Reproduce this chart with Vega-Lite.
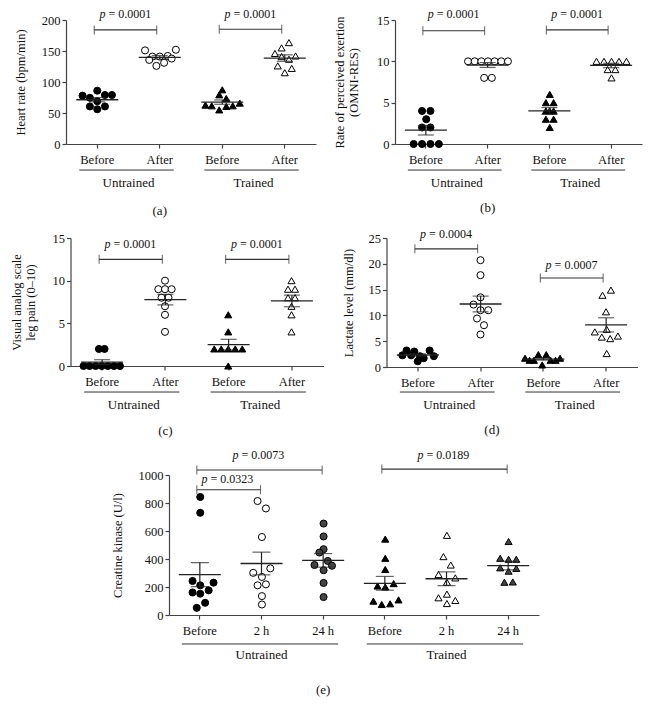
{
"$schema":"https://vega.github.io/schema/vega-lite/v6.json",
"padding":{"left":10,"top":7,"right":5,"bottom":5},
"config":{"font":"Liberation Serif","view":{"stroke":null},
"axis":{"labelFont":"Liberation Serif","titleFont":"Liberation Serif","labelFontSize":12.5,"titleFontSize":12.5,"titleFontWeight":"normal","labelColor":"#111","titleColor":"#111","domainColor":"#444","tickColor":"#444","domainWidth":1.2,"tickWidth":1.2,"tickSize":4,"grid":false,"titleLineHeight":14},
"text":{"font":"Liberation Serif","color":"#111"}},
"datasets":{
"pts":[
{"p":"a","c":"Untrained|Before","v":78,"s":-2.1},{"p":"a","c":"Untrained|Before","v":74.5,"s":-1.05},{"p":"a","c":"Untrained|Before","v":86,"s":0},{"p":"a","c":"Untrained|Before","v":79,"s":1.1},{"p":"a","c":"Untrained|Before","v":79,"s":2.1},{"p":"a","c":"Untrained|Before","v":69,"s":0},{"p":"a","c":"Untrained|Before","v":60.6,"s":-1.05},{"p":"a","c":"Untrained|Before","v":60.6,"s":1.1},{"p":"a","c":"Untrained|Before","v":56,"s":0},
{"p":"a","c":"Untrained|After","v":151,"s":-2.1},{"p":"a","c":"Untrained|After","v":152,"s":2.3},{"p":"a","c":"Untrained|After","v":141,"s":-1.05},{"p":"a","c":"Untrained|After","v":141,"s":0},{"p":"a","c":"Untrained|After","v":142,"s":1.14},{"p":"a","c":"Untrained|After","v":135.6,"s":-1.5},{"p":"a","c":"Untrained|After","v":137.8,"s":1.7},{"p":"a","c":"Untrained|After","v":131,"s":0.62},{"p":"a","c":"Untrained|After","v":126,"s":-0.48},
{"p":"a","c":"Trained|Before","v":87.4,"s":0},{"p":"a","c":"Trained|Before","v":79.3,"s":-0.43},{"p":"a","c":"Trained|Before","v":73.4,"s":0.57},{"p":"a","c":"Trained|Before","v":62.7,"s":-2.4},{"p":"a","c":"Trained|Before","v":61.6,"s":-1.5},{"p":"a","c":"Trained|Before","v":66,"s":2.5},{"p":"a","c":"Trained|Before","v":55,"s":-0.43},{"p":"a","c":"Trained|Before","v":60.6,"s":0.57},{"p":"a","c":"Trained|Before","v":61.6,"s":1.5},
{"p":"a","c":"Trained|After","v":163.5,"s":0.6},{"p":"a","c":"Trained|After","v":155,"s":-0.45},{"p":"a","c":"Trained|After","v":146,"s":-1.4},{"p":"a","c":"Trained|After","v":142,"s":1.55},{"p":"a","c":"Trained|After","v":141,"s":-0.45},{"p":"a","c":"Trained|After","v":136.7,"s":0.6},{"p":"a","c":"Trained|After","v":126,"s":-1},{"p":"a","c":"Trained|After","v":122,"s":1},{"p":"a","c":"Trained|After","v":115,"s":0},
{"p":"b","c":"Untrained|Before","v":4,"s":-0.6},{"p":"b","c":"Untrained|Before","v":4,"s":0.6},{"p":"b","c":"Untrained|Before","v":3,"s":0},{"p":"b","c":"Untrained|Before","v":2,"s":-0.6},{"p":"b","c":"Untrained|Before","v":2,"s":0.6},{"p":"b","c":"Untrained|Before","v":0,"s":-1.8},{"p":"b","c":"Untrained|Before","v":0,"s":-0.6},{"p":"b","c":"Untrained|Before","v":0,"s":0.6},{"p":"b","c":"Untrained|Before","v":0,"s":1.8},
{"p":"b","c":"Untrained|After","v":10,"s":-2.85},{"p":"b","c":"Untrained|After","v":10,"s":-1.9},{"p":"b","c":"Untrained|After","v":10,"s":-0.95},{"p":"b","c":"Untrained|After","v":10,"s":0},{"p":"b","c":"Untrained|After","v":10,"s":0.95},{"p":"b","c":"Untrained|After","v":10,"s":1.9},{"p":"b","c":"Untrained|After","v":10,"s":2.85},{"p":"b","c":"Untrained|After","v":8,"s":-0.55},{"p":"b","c":"Untrained|After","v":8,"s":0.55},
{"p":"b","c":"Trained|Before","v":6,"s":0},{"p":"b","c":"Trained|Before","v":5,"s":-0.55},{"p":"b","c":"Trained|Before","v":5,"s":0.55},{"p":"b","c":"Trained|Before","v":4,"s":-0.55},{"p":"b","c":"Trained|Before","v":4,"s":0},{"p":"b","c":"Trained|Before","v":4,"s":0.55},{"p":"b","c":"Trained|Before","v":3,"s":-0.55},{"p":"b","c":"Trained|Before","v":3,"s":0.55},{"p":"b","c":"Trained|Before","v":2,"s":0},
{"p":"b","c":"Trained|After","v":10,"s":-2.14},{"p":"b","c":"Trained|After","v":10,"s":-1.07},{"p":"b","c":"Trained|After","v":10,"s":0},{"p":"b","c":"Trained|After","v":10,"s":1.07},{"p":"b","c":"Trained|After","v":10,"s":2.14},{"p":"b","c":"Trained|After","v":9,"s":-0.55},{"p":"b","c":"Trained|After","v":9,"s":0.55},{"p":"b","c":"Trained|After","v":8,"s":0},
{"p":"c","c":"Untrained|Before","v":2,"s":-0.4},{"p":"c","c":"Untrained|Before","v":2,"s":0.4},{"p":"c","c":"Untrained|Before","v":0,"s":-2.6},{"p":"c","c":"Untrained|Before","v":0,"s":-1.75},{"p":"c","c":"Untrained|Before","v":0,"s":-0.87},{"p":"c","c":"Untrained|Before","v":0,"s":0},{"p":"c","c":"Untrained|Before","v":0,"s":0.87},{"p":"c","c":"Untrained|Before","v":0,"s":1.75},{"p":"c","c":"Untrained|Before","v":0,"s":2.6},
{"p":"c","c":"Untrained|After","v":10,"s":0},{"p":"c","c":"Untrained|After","v":9,"s":-0.95},{"p":"c","c":"Untrained|After","v":9,"s":0},{"p":"c","c":"Untrained|After","v":9,"s":0.95},{"p":"c","c":"Untrained|After","v":8,"s":-0.5},{"p":"c","c":"Untrained|After","v":8,"s":0.5},{"p":"c","c":"Untrained|After","v":7,"s":0},{"p":"c","c":"Untrained|After","v":6,"s":0},{"p":"c","c":"Untrained|After","v":4,"s":0},
{"p":"c","c":"Trained|Before","v":6,"s":0},{"p":"c","c":"Trained|Before","v":4,"s":0},{"p":"c","c":"Trained|Before","v":2,"s":-2},{"p":"c","c":"Trained|Before","v":2,"s":-1},{"p":"c","c":"Trained|Before","v":2,"s":0},{"p":"c","c":"Trained|Before","v":2,"s":1},{"p":"c","c":"Trained|Before","v":2,"s":2},{"p":"c","c":"Trained|Before","v":0,"s":0},
{"p":"c","c":"Trained|After","v":10,"s":0},{"p":"c","c":"Trained|After","v":9,"s":-0.5},{"p":"c","c":"Trained|After","v":9,"s":0.5},{"p":"c","c":"Trained|After","v":8,"s":-0.5},{"p":"c","c":"Trained|After","v":8,"s":0.5},{"p":"c","c":"Trained|After","v":7,"s":0},{"p":"c","c":"Trained|After","v":6,"s":0},{"p":"c","c":"Trained|After","v":4,"s":0},
{"p":"d","c":"Untrained|Before","v":2.26,"s":-2.2},{"p":"d","c":"Untrained|Before","v":3.2,"s":-1.6},{"p":"d","c":"Untrained|Before","v":2.26,"s":-0.95},{"p":"d","c":"Untrained|Before","v":3.0,"s":-0.5},{"p":"d","c":"Untrained|Before","v":2.1,"s":0.3},{"p":"d","c":"Untrained|Before","v":1.1,"s":0},{"p":"d","c":"Untrained|Before","v":1.7,"s":0.85},{"p":"d","c":"Untrained|Before","v":3.2,"s":1.7},{"p":"d","c":"Untrained|Before","v":2.1,"s":2.3},
{"p":"d","c":"Untrained|After","v":20.7,"s":0},{"p":"d","c":"Untrained|After","v":17.8,"s":0},{"p":"d","c":"Untrained|After","v":13.5,"s":0},{"p":"d","c":"Untrained|After","v":12.1,"s":-1},{"p":"d","c":"Untrained|After","v":11,"s":0},{"p":"d","c":"Untrained|After","v":11,"s":1.1},{"p":"d","c":"Untrained|After","v":9.4,"s":-0.5},{"p":"d","c":"Untrained|After","v":8.1,"s":0.5},{"p":"d","c":"Untrained|After","v":6.3,"s":0},
{"p":"d","c":"Trained|Before","v":1.7,"s":-2.6},{"p":"d","c":"Trained|Before","v":1.3,"s":-1.95},{"p":"d","c":"Trained|Before","v":1.3,"s":-1.33},{"p":"d","c":"Trained|Before","v":2.4,"s":-0.7},{"p":"d","c":"Trained|Before","v":0.4,"s":-0.15},{"p":"d","c":"Trained|Before","v":2.4,"s":0.43},{"p":"d","c":"Trained|Before","v":1.3,"s":1.05},{"p":"d","c":"Trained|Before","v":1.3,"s":1.76},{"p":"d","c":"Trained|Before","v":1.7,"s":2.4},
{"p":"d","c":"Trained|After","v":14.9,"s":0.7},{"p":"d","c":"Trained|After","v":13.9,"s":-0.5},{"p":"d","c":"Trained|After","v":10.7,"s":0},{"p":"d","c":"Trained|After","v":7.3,"s":0.1},{"p":"d","c":"Trained|After","v":6.8,"s":-1.6},{"p":"d","c":"Trained|After","v":5.8,"s":-0.6},{"p":"d","c":"Trained|After","v":5.5,"s":0.6},{"p":"d","c":"Trained|After","v":6.0,"s":1.7},{"p":"d","c":"Trained|After","v":2.6,"s":0.1},
{"p":"e","c":"Untrained|Before","v":843,"s":0},{"p":"e","c":"Untrained|Before","v":730,"s":0},{"p":"e","c":"Untrained|Before","v":243,"s":-1.1},{"p":"e","c":"Untrained|Before","v":231,"s":1.9},{"p":"e","c":"Untrained|Before","v":212,"s":0},{"p":"e","c":"Untrained|Before","v":161,"s":-1.1},{"p":"e","c":"Untrained|Before","v":176,"s":1.2},{"p":"e","c":"Untrained|Before","v":152,"s":0},{"p":"e","c":"Untrained|Before","v":87,"s":0.7},{"p":"e","c":"Untrained|Before","v":51,"s":-0.5},
{"p":"e","c":"Untrained|2 h","v":814,"s":-0.62},{"p":"e","c":"Untrained|2 h","v":761,"s":0.57},{"p":"e","c":"Untrained|2 h","v":557,"s":0},{"p":"e","c":"Untrained|2 h","v":301,"s":-1.24},{"p":"e","c":"Untrained|2 h","v":333,"s":1.2},{"p":"e","c":"Untrained|2 h","v":272,"s":0},{"p":"e","c":"Untrained|2 h","v":212,"s":-0.62},{"p":"e","c":"Untrained|2 h","v":219,"s":0.57},{"p":"e","c":"Untrained|2 h","v":135,"s":0},{"p":"e","c":"Untrained|2 h","v":75,"s":0},
{"p":"e","c":"Untrained|24 h","v":653,"s":0},{"p":"e","c":"Untrained|24 h","v":561,"s":0},{"p":"e","c":"Untrained|24 h","v":470,"s":0},{"p":"e","c":"Untrained|24 h","v":446,"s":-0.6},{"p":"e","c":"Untrained|24 h","v":357,"s":-1.3},{"p":"e","c":"Untrained|24 h","v":386,"s":0.6},{"p":"e","c":"Untrained|24 h","v":352,"s":1.2},{"p":"e","c":"Untrained|24 h","v":320,"s":0},{"p":"e","c":"Untrained|24 h","v":229,"s":0},{"p":"e","c":"Untrained|24 h","v":128,"s":0},
{"p":"e","c":"Trained|Before","v":542,"s":0},{"p":"e","c":"Trained|Before","v":405,"s":0},{"p":"e","c":"Trained|Before","v":325,"s":0},{"p":"e","c":"Trained|Before","v":207,"s":-1.1},{"p":"e","c":"Trained|Before","v":200,"s":0},{"p":"e","c":"Trained|Before","v":224,"s":1.2},{"p":"e","c":"Trained|Before","v":99,"s":-1.7},{"p":"e","c":"Trained|Before","v":75,"s":-0.5},{"p":"e","c":"Trained|Before","v":80,"s":0.7},{"p":"e","c":"Trained|Before","v":108,"s":1.9},
{"p":"e","c":"Trained|2 h","v":569,"s":0},{"p":"e","c":"Trained|2 h","v":417,"s":-0.5},{"p":"e","c":"Trained|2 h","v":357,"s":0.55},{"p":"e","c":"Trained|2 h","v":289,"s":-1.2},{"p":"e","c":"Trained|2 h","v":265,"s":1.2},{"p":"e","c":"Trained|2 h","v":234,"s":0},{"p":"e","c":"Trained|2 h","v":123,"s":-1.2},{"p":"e","c":"Trained|2 h","v":149,"s":0},{"p":"e","c":"Trained|2 h","v":82,"s":0},{"p":"e","c":"Trained|2 h","v":104,"s":1.2},
{"p":"e","c":"Trained|24 h","v":525,"s":0},{"p":"e","c":"Trained|24 h","v":405,"s":-1.2},{"p":"e","c":"Trained|24 h","v":398,"s":0},{"p":"e","c":"Trained|24 h","v":398,"s":1.1},{"p":"e","c":"Trained|24 h","v":337,"s":-1.2},{"p":"e","c":"Trained|24 h","v":313,"s":0},{"p":"e","c":"Trained|24 h","v":333,"s":1.1},{"p":"e","c":"Trained|24 h","v":234,"s":-0.6},{"p":"e","c":"Trained|24 h","v":236,"s":0.6}
],
"br":[
{"p":"a","c":"Untrained|Before","c2":"Untrained|After","v":184},{"p":"a","c":"Trained|Before","c2":"Trained|After","v":185},
{"p":"b","c":"Untrained|Before","c2":"Untrained|After","v":13.7},{"p":"b","c":"Trained|Before","c2":"Trained|After","v":13.8},
{"p":"c","c":"Untrained|Before","c2":"Untrained|After","v":12.5},{"p":"c","c":"Trained|Before","c2":"Trained|After","v":12.5},
{"p":"d","c":"Untrained|Before","c2":"Untrained|After","v":22.9},{"p":"d","c":"Trained|Before","c2":"Trained|After","v":17.25},
{"p":"e","c":"Untrained|Before","c2":"Untrained|24 h","v":1036},{"p":"e","c":"Untrained|Before","c2":"Untrained|2 h","v":895},{"p":"e","c":"Trained|Before","c2":"Trained|24 h","v":1042}
],
"pl":[
{"p":"a","c":"Untrained|Before","v":210,"label":"= 0.0001","k":"adj"},{"p":"a","c":"Trained|Before","v":210,"label":"= 0.0001","k":"adj"},
{"p":"b","c":"Untrained|Before","v":15.7,"label":"= 0.0001","k":"adj"},{"p":"b","c":"Trained|Before","v":15.7,"label":"= 0.0001","k":"adj"},
{"p":"c","c":"Untrained|Before","v":14.3,"label":"= 0.0001","k":"adj"},{"p":"c","c":"Trained|Before","v":14.3,"label":"= 0.0001","k":"adj"},
{"p":"d","c":"Untrained|Before","v":25.8,"label":"= 0.0004","k":"adj"},{"p":"d","c":"Trained|Before","v":19.8,"label":"= 0.0007","k":"adj"},
{"p":"e","c":"Untrained|2 h","v":1143,"label":"= 0.0073","k":"mid"},{"p":"e","c":"Untrained|Before","v":974,"label":"= 0.0323","k":"adj"},{"p":"e","c":"Trained|2 h","v":1145,"label":"= 0.0189","k":"mid"}
],
"grp":[
{"p":"a","c":"Untrained|Before","c2":"Untrained|After","name":"Untrained"},{"p":"a","c":"Trained|Before","c2":"Trained|After","name":"Trained"},
{"p":"b","c":"Untrained|Before","c2":"Untrained|After","name":"Untrained"},{"p":"b","c":"Trained|Before","c2":"Trained|After","name":"Trained"},
{"p":"c","c":"Untrained|Before","c2":"Untrained|After","name":"Untrained"},{"p":"c","c":"Trained|Before","c2":"Trained|After","name":"Trained"},
{"p":"d","c":"Untrained|Before","c2":"Untrained|After","name":"Untrained"},{"p":"d","c":"Trained|Before","c2":"Trained|After","name":"Trained"},
{"p":"e","c":"Untrained|Before","c2":"Untrained|24 h","m":"Untrained|2 h","name":"Untrained"},{"p":"e","c":"Trained|Before","c2":"Trained|24 h","m":"Trained|2 h","name":"Trained"}
]
},
"spacing":9,
"center":true,
"vconcat":[
{"hconcat":[
{"width":250,"height":124,"layer":[
{"data":{"name":"pts"},"transform":[{"filter":"datum.p=='a'"}],"mark":{"type":"point","filled":true,"size":50,"stroke":"#000","strokeWidth":1,"opacity":1},
"encoding":{"x":{"field":"c","type":"nominal","scale":{"type":"band","domain":["Untrained|Before","Untrained|After","Trained|Before","Trained|After"],"paddingInner":0,"paddingOuter":0},"axis":{"title":null,"labelExpr":"split(datum.value,'|')[1]","labelAngle":0,"labelPadding":5,"labelOverlap":false}},
"xOffset":{"field":"s","type":"quantitative","scale":{"domain":[-4,4],"range":[3.25,59.25]}},
"y":{"field":"v","type":"quantitative","scale":{"domain":[0,200],"nice":false,"zero":false},"axis":{"title":"Heart rate (bpm/min)","values":[0,50,100,150,200],"titlePadding":14,"labelPadding":2}},
"shape":{"field":"c","type":"nominal","scale":{"domain":["Untrained|Before","Untrained|After","Untrained|2 h","Untrained|24 h","Trained|Before","Trained|After","Trained|2 h","Trained|24 h"],"range":["circle","circle","circle","circle","triangle-up","triangle-up","triangle-up","triangle-up"]},"legend":null},
"fill":{"field":"c","type":"nominal","scale":{"domain":["Untrained|Before","Untrained|After","Untrained|2 h","Untrained|24 h","Trained|Before","Trained|After","Trained|2 h","Trained|24 h"],"range":["#000","#fff","#fff","#444","#000","#fff","#fff","#444"]},"legend":null}}},
{"data":{"name":"pts"},"transform":[{"filter":"datum.p=='a'"}],"mark":{"type":"tick","size":42,"thickness":1.3,"color":"#222"},
"encoding":{"x":{"field":"c","type":"nominal","scale":{"type":"band","domain":["Untrained|Before","Untrained|After","Trained|Before","Trained|After"],"paddingInner":0,"paddingOuter":0},"axis":{"title":null,"labelExpr":"split(datum.value,'|')[1]","labelAngle":0,"labelPadding":5,"labelOverlap":false}},
"y":{"aggregate":"mean","field":"v","type":"quantitative","scale":{"domain":[0,200],"nice":false,"zero":false},"axis":{"title":"Heart rate (bpm/min)","values":[0,50,100,150,200],"titlePadding":14,"labelPadding":2}}}},
{"data":{"name":"pts"},"transform":[{"filter":"datum.p=='a'"}],"mark":{"type":"errorbar","extent":"stderr","ticks":{"size":16},"thickness":1.2,"color":"#222"},
"encoding":{"x":{"field":"c","type":"nominal","scale":{"type":"band","domain":["Untrained|Before","Untrained|After","Trained|Before","Trained|After"],"paddingInner":0,"paddingOuter":0},"axis":{"title":null,"labelExpr":"split(datum.value,'|')[1]","labelAngle":0,"labelPadding":5,"labelOverlap":false}},
"y":{"field":"v","type":"quantitative","scale":{"domain":[0,200],"nice":false,"zero":false},"axis":{"title":"Heart rate (bpm/min)","values":[0,50,100,150,200],"titlePadding":14,"labelPadding":2}}}},
{"data":{"name":"br"},"transform":[{"filter":"datum.p=='a'"}],"mark":{"type":"rule","color":"#333","strokeWidth":1.1,"xOffset":-3,"x2Offset":-3},
"encoding":{"x":{"field":"c","type":"nominal","scale":{"type":"band","domain":["Untrained|Before","Untrained|After","Trained|Before","Trained|After"],"paddingInner":0,"paddingOuter":0},"axis":{"title":null,"labelExpr":"split(datum.value,'|')[1]","labelAngle":0,"labelPadding":5,"labelOverlap":false}},"x2":{"field":"c2"},
"y":{"field":"v","type":"quantitative","scale":{"domain":[0,200],"nice":false,"zero":false},"axis":{"title":"Heart rate (bpm/min)","values":[0,50,100,150,200],"titlePadding":14,"labelPadding":2}}}},
{"data":{"name":"br"},"transform":[{"filter":"datum.p=='a'"}],"mark":{"type":"tick","orient":"vertical","size":9,"thickness":1.1,"color":"#333","xOffset":-3},
"encoding":{"x":{"field":"c","type":"nominal","scale":{"type":"band","domain":["Untrained|Before","Untrained|After","Trained|Before","Trained|After"],"paddingInner":0,"paddingOuter":0},"axis":{"title":null,"labelExpr":"split(datum.value,'|')[1]","labelAngle":0,"labelPadding":5,"labelOverlap":false}},
"y":{"field":"v","type":"quantitative","scale":{"domain":[0,200],"nice":false,"zero":false},"axis":{"title":"Heart rate (bpm/min)","values":[0,50,100,150,200],"titlePadding":14,"labelPadding":2}}}},
{"data":{"name":"br"},"transform":[{"filter":"datum.p=='a'"}],"mark":{"type":"tick","orient":"vertical","size":9,"thickness":1.1,"color":"#333","xOffset":-3},
"encoding":{"x":{"field":"c2","type":"nominal","scale":{"type":"band","domain":["Untrained|Before","Untrained|After","Trained|Before","Trained|After"],"paddingInner":0,"paddingOuter":0},"axis":{"title":null,"labelExpr":"split(datum.value,'|')[1]","labelAngle":0,"labelPadding":5,"labelOverlap":false}},
"y":{"field":"v","type":"quantitative","scale":{"domain":[0,200],"nice":false,"zero":false},"axis":{"title":"Heart rate (bpm/min)","values":[0,50,100,150,200],"titlePadding":14,"labelPadding":2}}}},
{"data":{"name":"pl"},"transform":[{"filter":"datum.p=='a'"}],"mark":{"type":"text","fontSize":12,"baseline":"middle","align":"left","dx":-26,"fontStyle":"italic"},
"encoding":{"x":{"field":"c","type":"nominal","bandPosition":0.95,"scale":{"type":"band","domain":["Untrained|Before","Untrained|After","Trained|Before","Trained|After"],"paddingInner":0,"paddingOuter":0},"axis":{"title":null,"labelExpr":"split(datum.value,'|')[1]","labelAngle":0,"labelPadding":5,"labelOverlap":false}},
"y":{"field":"v","type":"quantitative","scale":{"domain":[0,200],"nice":false,"zero":false},"axis":{"title":"Heart rate (bpm/min)","values":[0,50,100,150,200],"titlePadding":14,"labelPadding":2}},"text":{"value":"p"}}},
{"data":{"name":"pl"},"transform":[{"filter":"datum.p=='a'"}],"mark":{"type":"text","fontSize":12,"baseline":"middle","align":"left","dx":-17},
"encoding":{"x":{"field":"c","type":"nominal","bandPosition":0.95,"scale":{"type":"band","domain":["Untrained|Before","Untrained|After","Trained|Before","Trained|After"],"paddingInner":0,"paddingOuter":0},"axis":{"title":null,"labelExpr":"split(datum.value,'|')[1]","labelAngle":0,"labelPadding":5,"labelOverlap":false}},
"y":{"field":"v","type":"quantitative","scale":{"domain":[0,200],"nice":false,"zero":false},"axis":{"title":"Heart rate (bpm/min)","values":[0,50,100,150,200],"titlePadding":14,"labelPadding":2}},"text":{"field":"label"}}},
{"data":{"name":"grp"},"transform":[{"filter":"datum.p=='a'"}],"mark":{"type":"rule","color":"#333","strokeWidth":1,"xOffset":-18,"x2Offset":14},
"encoding":{"x":{"field":"c","type":"nominal","scale":{"type":"band","domain":["Untrained|Before","Untrained|After","Trained|Before","Trained|After"],"paddingInner":0,"paddingOuter":0},"axis":{"title":null,"labelExpr":"split(datum.value,'|')[1]","labelAngle":0,"labelPadding":5,"labelOverlap":false}},"x2":{"field":"c2"},
"y":{"datum":-42,"type":"quantitative","scale":{"domain":[0,200],"nice":false,"zero":false},"axis":{"title":"Heart rate (bpm/min)","values":[0,50,100,150,200],"titlePadding":14,"labelPadding":2}}}},
{"data":{"name":"grp"},"transform":[{"filter":"datum.p=='a'"}],"mark":{"type":"text","fontSize":13,"baseline":"middle"},
"encoding":{"x":{"field":"c","type":"nominal","bandPosition":1,"scale":{"type":"band","domain":["Untrained|Before","Untrained|After","Trained|Before","Trained|After"],"paddingInner":0,"paddingOuter":0},"axis":{"title":null,"labelExpr":"split(datum.value,'|')[1]","labelAngle":0,"labelPadding":5,"labelOverlap":false}},
"y":{"datum":-63,"type":"quantitative","scale":{"domain":[0,200],"nice":false,"zero":false},"axis":{"title":"Heart rate (bpm/min)","values":[0,50,100,150,200],"titlePadding":14,"labelPadding":2}},"text":{"field":"name"}}},
{"data":{"values":[{"cap":"(a)"}]},"mark":{"type":"text","fontSize":13,"baseline":"middle"},
"encoding":{"x":{"datum":"Untrained|After","type":"nominal","scale":{"type":"band","domain":["Untrained|Before","Untrained|After","Trained|Before","Trained|After"],"paddingInner":0,"paddingOuter":0},"axis":{"title":null,"labelExpr":"split(datum.value,'|')[1]","labelAngle":0,"labelPadding":5,"labelOverlap":false}},
"y":{"datum":-108,"type":"quantitative","scale":{"domain":[0,200],"nice":false,"zero":false},"axis":{"title":"Heart rate (bpm/min)","values":[0,50,100,150,200],"titlePadding":14,"labelPadding":2}},"text":{"field":"cap"}}}
]},
{"width":247,"height":124,"layer":[
{"data":{"name":"pts"},"transform":[{"filter":"datum.p=='b'"}],"mark":{"type":"point","filled":true,"size":50,"stroke":"#000","strokeWidth":1,"opacity":1},
"encoding":{"x":{"field":"c","type":"nominal","scale":{"type":"band","domain":["Untrained|Before","Untrained|After","Trained|Before","Trained|After"],"paddingInner":0,"paddingOuter":0},"axis":{"title":null,"labelExpr":"split(datum.value,'|')[1]","labelAngle":0,"labelPadding":5,"labelOverlap":false}},
"xOffset":{"field":"s","type":"quantitative","scale":{"domain":[-4,4],"range":[2.875,58.875]}},
"y":{"field":"v","type":"quantitative","scale":{"domain":[0,15],"nice":false,"zero":false},"axis":{"title":["Rate of perceived exertion","(OMNI-RES)"],"values":[0,5,10,15],"titlePadding":16,"labelPadding":2}},
"shape":{"field":"c","type":"nominal","scale":{"domain":["Untrained|Before","Untrained|After","Untrained|2 h","Untrained|24 h","Trained|Before","Trained|After","Trained|2 h","Trained|24 h"],"range":["circle","circle","circle","circle","triangle-up","triangle-up","triangle-up","triangle-up"]},"legend":null},
"fill":{"field":"c","type":"nominal","scale":{"domain":["Untrained|Before","Untrained|After","Untrained|2 h","Untrained|24 h","Trained|Before","Trained|After","Trained|2 h","Trained|24 h"],"range":["#000","#fff","#fff","#444","#000","#fff","#fff","#444"]},"legend":null}}},
{"data":{"name":"pts"},"transform":[{"filter":"datum.p=='b'"}],"mark":{"type":"tick","size":42,"thickness":1.3,"color":"#222"},
"encoding":{"x":{"field":"c","type":"nominal","scale":{"type":"band","domain":["Untrained|Before","Untrained|After","Trained|Before","Trained|After"],"paddingInner":0,"paddingOuter":0},"axis":{"title":null,"labelExpr":"split(datum.value,'|')[1]","labelAngle":0,"labelPadding":5,"labelOverlap":false}},
"y":{"aggregate":"mean","field":"v","type":"quantitative","scale":{"domain":[0,15],"nice":false,"zero":false},"axis":{"title":["Rate of perceived exertion","(OMNI-RES)"],"values":[0,5,10,15],"titlePadding":16,"labelPadding":2}}}},
{"data":{"name":"pts"},"transform":[{"filter":"datum.p=='b'"}],"mark":{"type":"errorbar","extent":"stderr","ticks":{"size":16},"thickness":1.2,"color":"#222"},
"encoding":{"x":{"field":"c","type":"nominal","scale":{"type":"band","domain":["Untrained|Before","Untrained|After","Trained|Before","Trained|After"],"paddingInner":0,"paddingOuter":0},"axis":{"title":null,"labelExpr":"split(datum.value,'|')[1]","labelAngle":0,"labelPadding":5,"labelOverlap":false}},
"y":{"field":"v","type":"quantitative","scale":{"domain":[0,15],"nice":false,"zero":false},"axis":{"title":["Rate of perceived exertion","(OMNI-RES)"],"values":[0,5,10,15],"titlePadding":16,"labelPadding":2}}}},
{"data":{"name":"br"},"transform":[{"filter":"datum.p=='b'"}],"mark":{"type":"rule","color":"#333","strokeWidth":1.1,"xOffset":-3,"x2Offset":-3},
"encoding":{"x":{"field":"c","type":"nominal","scale":{"type":"band","domain":["Untrained|Before","Untrained|After","Trained|Before","Trained|After"],"paddingInner":0,"paddingOuter":0},"axis":{"title":null,"labelExpr":"split(datum.value,'|')[1]","labelAngle":0,"labelPadding":5,"labelOverlap":false}},"x2":{"field":"c2"},
"y":{"field":"v","type":"quantitative","scale":{"domain":[0,15],"nice":false,"zero":false},"axis":{"title":["Rate of perceived exertion","(OMNI-RES)"],"values":[0,5,10,15],"titlePadding":16,"labelPadding":2}}}},
{"data":{"name":"br"},"transform":[{"filter":"datum.p=='b'"}],"mark":{"type":"tick","orient":"vertical","size":9,"thickness":1.1,"color":"#333","xOffset":-3},
"encoding":{"x":{"field":"c","type":"nominal","scale":{"type":"band","domain":["Untrained|Before","Untrained|After","Trained|Before","Trained|After"],"paddingInner":0,"paddingOuter":0},"axis":{"title":null,"labelExpr":"split(datum.value,'|')[1]","labelAngle":0,"labelPadding":5,"labelOverlap":false}},
"y":{"field":"v","type":"quantitative","scale":{"domain":[0,15],"nice":false,"zero":false},"axis":{"title":["Rate of perceived exertion","(OMNI-RES)"],"values":[0,5,10,15],"titlePadding":16,"labelPadding":2}}}},
{"data":{"name":"br"},"transform":[{"filter":"datum.p=='b'"}],"mark":{"type":"tick","orient":"vertical","size":9,"thickness":1.1,"color":"#333","xOffset":-3},
"encoding":{"x":{"field":"c2","type":"nominal","scale":{"type":"band","domain":["Untrained|Before","Untrained|After","Trained|Before","Trained|After"],"paddingInner":0,"paddingOuter":0},"axis":{"title":null,"labelExpr":"split(datum.value,'|')[1]","labelAngle":0,"labelPadding":5,"labelOverlap":false}},
"y":{"field":"v","type":"quantitative","scale":{"domain":[0,15],"nice":false,"zero":false},"axis":{"title":["Rate of perceived exertion","(OMNI-RES)"],"values":[0,5,10,15],"titlePadding":16,"labelPadding":2}}}},
{"data":{"name":"pl"},"transform":[{"filter":"datum.p=='b'"}],"mark":{"type":"text","fontSize":12,"baseline":"middle","align":"left","dx":-26,"fontStyle":"italic"},
"encoding":{"x":{"field":"c","type":"nominal","bandPosition":0.95,"scale":{"type":"band","domain":["Untrained|Before","Untrained|After","Trained|Before","Trained|After"],"paddingInner":0,"paddingOuter":0},"axis":{"title":null,"labelExpr":"split(datum.value,'|')[1]","labelAngle":0,"labelPadding":5,"labelOverlap":false}},
"y":{"field":"v","type":"quantitative","scale":{"domain":[0,15],"nice":false,"zero":false},"axis":{"title":["Rate of perceived exertion","(OMNI-RES)"],"values":[0,5,10,15],"titlePadding":16,"labelPadding":2}},"text":{"value":"p"}}},
{"data":{"name":"pl"},"transform":[{"filter":"datum.p=='b'"}],"mark":{"type":"text","fontSize":12,"baseline":"middle","align":"left","dx":-17},
"encoding":{"x":{"field":"c","type":"nominal","bandPosition":0.95,"scale":{"type":"band","domain":["Untrained|Before","Untrained|After","Trained|Before","Trained|After"],"paddingInner":0,"paddingOuter":0},"axis":{"title":null,"labelExpr":"split(datum.value,'|')[1]","labelAngle":0,"labelPadding":5,"labelOverlap":false}},
"y":{"field":"v","type":"quantitative","scale":{"domain":[0,15],"nice":false,"zero":false},"axis":{"title":["Rate of perceived exertion","(OMNI-RES)"],"values":[0,5,10,15],"titlePadding":16,"labelPadding":2}},"text":{"field":"label"}}},
{"data":{"name":"grp"},"transform":[{"filter":"datum.p=='b'"}],"mark":{"type":"rule","color":"#333","strokeWidth":1,"xOffset":-18,"x2Offset":14},
"encoding":{"x":{"field":"c","type":"nominal","scale":{"type":"band","domain":["Untrained|Before","Untrained|After","Trained|Before","Trained|After"],"paddingInner":0,"paddingOuter":0},"axis":{"title":null,"labelExpr":"split(datum.value,'|')[1]","labelAngle":0,"labelPadding":5,"labelOverlap":false}},"x2":{"field":"c2"},
"y":{"datum":-3.15,"type":"quantitative","scale":{"domain":[0,15],"nice":false,"zero":false},"axis":{"title":["Rate of perceived exertion","(OMNI-RES)"],"values":[0,5,10,15],"titlePadding":16,"labelPadding":2}}}},
{"data":{"name":"grp"},"transform":[{"filter":"datum.p=='b'"}],"mark":{"type":"text","fontSize":13,"baseline":"middle"},
"encoding":{"x":{"field":"c","type":"nominal","bandPosition":1,"scale":{"type":"band","domain":["Untrained|Before","Untrained|After","Trained|Before","Trained|After"],"paddingInner":0,"paddingOuter":0},"axis":{"title":null,"labelExpr":"split(datum.value,'|')[1]","labelAngle":0,"labelPadding":5,"labelOverlap":false}},
"y":{"datum":-4.72,"type":"quantitative","scale":{"domain":[0,15],"nice":false,"zero":false},"axis":{"title":["Rate of perceived exertion","(OMNI-RES)"],"values":[0,5,10,15],"titlePadding":16,"labelPadding":2}},"text":{"field":"name"}}},
{"data":{"values":[{"cap":"(b)"}]},"mark":{"type":"text","fontSize":13,"baseline":"middle"},
"encoding":{"x":{"datum":"Untrained|After","type":"nominal","scale":{"type":"band","domain":["Untrained|Before","Untrained|After","Trained|Before","Trained|After"],"paddingInner":0,"paddingOuter":0},"axis":{"title":null,"labelExpr":"split(datum.value,'|')[1]","labelAngle":0,"labelPadding":5,"labelOverlap":false}},
"y":{"datum":-7.74,"type":"quantitative","scale":{"domain":[0,15],"nice":false,"zero":false},"axis":{"title":["Rate of perceived exertion","(OMNI-RES)"],"values":[0,5,10,15],"titlePadding":16,"labelPadding":2}},"text":{"field":"cap"}}}
]}
],"spacing":79,"bounds":"flush"},
{"hconcat":[
{"width":253,"height":128,"layer":[
{"data":{"name":"pts"},"transform":[{"filter":"datum.p=='c'"}],"mark":{"type":"point","filled":true,"size":50,"stroke":"#000","strokeWidth":1,"opacity":1},
"encoding":{"x":{"field":"c","type":"nominal","scale":{"type":"band","domain":["Untrained|Before","Untrained|After","Trained|Before","Trained|After"],"paddingInner":0,"paddingOuter":0},"axis":{"title":null,"labelExpr":"split(datum.value,'|')[1]","labelAngle":0,"labelPadding":5,"labelOverlap":false}},
"xOffset":{"field":"s","type":"quantitative","scale":{"domain":[-4,4],"range":[3.625,59.625]}},
"y":{"field":"v","type":"quantitative","scale":{"domain":[0,15],"nice":false,"zero":false},"axis":{"title":["Visual analog scale","leg pain (0–10)"],"values":[0,5,10,15],"titlePadding":15,"labelPadding":2}},
"shape":{"field":"c","type":"nominal","scale":{"domain":["Untrained|Before","Untrained|After","Untrained|2 h","Untrained|24 h","Trained|Before","Trained|After","Trained|2 h","Trained|24 h"],"range":["circle","circle","circle","circle","triangle-up","triangle-up","triangle-up","triangle-up"]},"legend":null},
"fill":{"field":"c","type":"nominal","scale":{"domain":["Untrained|Before","Untrained|After","Untrained|2 h","Untrained|24 h","Trained|Before","Trained|After","Trained|2 h","Trained|24 h"],"range":["#000","#fff","#fff","#444","#000","#fff","#fff","#444"]},"legend":null}}},
{"data":{"name":"pts"},"transform":[{"filter":"datum.p=='c'"}],"mark":{"type":"tick","size":42,"thickness":1.3,"color":"#222"},
"encoding":{"x":{"field":"c","type":"nominal","scale":{"type":"band","domain":["Untrained|Before","Untrained|After","Trained|Before","Trained|After"],"paddingInner":0,"paddingOuter":0},"axis":{"title":null,"labelExpr":"split(datum.value,'|')[1]","labelAngle":0,"labelPadding":5,"labelOverlap":false}},
"y":{"aggregate":"mean","field":"v","type":"quantitative","scale":{"domain":[0,15],"nice":false,"zero":false},"axis":{"title":["Visual analog scale","leg pain (0–10)"],"values":[0,5,10,15],"titlePadding":15,"labelPadding":2}}}},
{"data":{"name":"pts"},"transform":[{"filter":"datum.p=='c'"}],"mark":{"type":"errorbar","extent":"stderr","ticks":{"size":16},"thickness":1.2,"color":"#222"},
"encoding":{"x":{"field":"c","type":"nominal","scale":{"type":"band","domain":["Untrained|Before","Untrained|After","Trained|Before","Trained|After"],"paddingInner":0,"paddingOuter":0},"axis":{"title":null,"labelExpr":"split(datum.value,'|')[1]","labelAngle":0,"labelPadding":5,"labelOverlap":false}},
"y":{"field":"v","type":"quantitative","scale":{"domain":[0,15],"nice":false,"zero":false},"axis":{"title":["Visual analog scale","leg pain (0–10)"],"values":[0,5,10,15],"titlePadding":15,"labelPadding":2}}}},
{"data":{"name":"br"},"transform":[{"filter":"datum.p=='c'"}],"mark":{"type":"rule","color":"#333","strokeWidth":1.1,"xOffset":-3,"x2Offset":-3},
"encoding":{"x":{"field":"c","type":"nominal","scale":{"type":"band","domain":["Untrained|Before","Untrained|After","Trained|Before","Trained|After"],"paddingInner":0,"paddingOuter":0},"axis":{"title":null,"labelExpr":"split(datum.value,'|')[1]","labelAngle":0,"labelPadding":5,"labelOverlap":false}},"x2":{"field":"c2"},
"y":{"field":"v","type":"quantitative","scale":{"domain":[0,15],"nice":false,"zero":false},"axis":{"title":["Visual analog scale","leg pain (0–10)"],"values":[0,5,10,15],"titlePadding":15,"labelPadding":2}}}},
{"data":{"name":"br"},"transform":[{"filter":"datum.p=='c'"}],"mark":{"type":"tick","orient":"vertical","size":9,"thickness":1.1,"color":"#333","xOffset":-3},
"encoding":{"x":{"field":"c","type":"nominal","scale":{"type":"band","domain":["Untrained|Before","Untrained|After","Trained|Before","Trained|After"],"paddingInner":0,"paddingOuter":0},"axis":{"title":null,"labelExpr":"split(datum.value,'|')[1]","labelAngle":0,"labelPadding":5,"labelOverlap":false}},
"y":{"field":"v","type":"quantitative","scale":{"domain":[0,15],"nice":false,"zero":false},"axis":{"title":["Visual analog scale","leg pain (0–10)"],"values":[0,5,10,15],"titlePadding":15,"labelPadding":2}}}},
{"data":{"name":"br"},"transform":[{"filter":"datum.p=='c'"}],"mark":{"type":"tick","orient":"vertical","size":9,"thickness":1.1,"color":"#333","xOffset":-3},
"encoding":{"x":{"field":"c2","type":"nominal","scale":{"type":"band","domain":["Untrained|Before","Untrained|After","Trained|Before","Trained|After"],"paddingInner":0,"paddingOuter":0},"axis":{"title":null,"labelExpr":"split(datum.value,'|')[1]","labelAngle":0,"labelPadding":5,"labelOverlap":false}},
"y":{"field":"v","type":"quantitative","scale":{"domain":[0,15],"nice":false,"zero":false},"axis":{"title":["Visual analog scale","leg pain (0–10)"],"values":[0,5,10,15],"titlePadding":15,"labelPadding":2}}}},
{"data":{"name":"pl"},"transform":[{"filter":"datum.p=='c'"}],"mark":{"type":"text","fontSize":12,"baseline":"middle","align":"left","dx":-26,"fontStyle":"italic"},
"encoding":{"x":{"field":"c","type":"nominal","bandPosition":0.95,"scale":{"type":"band","domain":["Untrained|Before","Untrained|After","Trained|Before","Trained|After"],"paddingInner":0,"paddingOuter":0},"axis":{"title":null,"labelExpr":"split(datum.value,'|')[1]","labelAngle":0,"labelPadding":5,"labelOverlap":false}},
"y":{"field":"v","type":"quantitative","scale":{"domain":[0,15],"nice":false,"zero":false},"axis":{"title":["Visual analog scale","leg pain (0–10)"],"values":[0,5,10,15],"titlePadding":15,"labelPadding":2}},"text":{"value":"p"}}},
{"data":{"name":"pl"},"transform":[{"filter":"datum.p=='c'"}],"mark":{"type":"text","fontSize":12,"baseline":"middle","align":"left","dx":-17},
"encoding":{"x":{"field":"c","type":"nominal","bandPosition":0.95,"scale":{"type":"band","domain":["Untrained|Before","Untrained|After","Trained|Before","Trained|After"],"paddingInner":0,"paddingOuter":0},"axis":{"title":null,"labelExpr":"split(datum.value,'|')[1]","labelAngle":0,"labelPadding":5,"labelOverlap":false}},
"y":{"field":"v","type":"quantitative","scale":{"domain":[0,15],"nice":false,"zero":false},"axis":{"title":["Visual analog scale","leg pain (0–10)"],"values":[0,5,10,15],"titlePadding":15,"labelPadding":2}},"text":{"field":"label"}}},
{"data":{"name":"grp"},"transform":[{"filter":"datum.p=='c'"}],"mark":{"type":"rule","color":"#333","strokeWidth":1,"xOffset":-18,"x2Offset":14},
"encoding":{"x":{"field":"c","type":"nominal","scale":{"type":"band","domain":["Untrained|Before","Untrained|After","Trained|Before","Trained|After"],"paddingInner":0,"paddingOuter":0},"axis":{"title":null,"labelExpr":"split(datum.value,'|')[1]","labelAngle":0,"labelPadding":5,"labelOverlap":false}},"x2":{"field":"c2"},
"y":{"datum":-3.05,"type":"quantitative","scale":{"domain":[0,15],"nice":false,"zero":false},"axis":{"title":["Visual analog scale","leg pain (0–10)"],"values":[0,5,10,15],"titlePadding":15,"labelPadding":2}}}},
{"data":{"name":"grp"},"transform":[{"filter":"datum.p=='c'"}],"mark":{"type":"text","fontSize":13,"baseline":"middle"},
"encoding":{"x":{"field":"c","type":"nominal","bandPosition":1,"scale":{"type":"band","domain":["Untrained|Before","Untrained|After","Trained|Before","Trained|After"],"paddingInner":0,"paddingOuter":0},"axis":{"title":null,"labelExpr":"split(datum.value,'|')[1]","labelAngle":0,"labelPadding":5,"labelOverlap":false}},
"y":{"datum":-4.57,"type":"quantitative","scale":{"domain":[0,15],"nice":false,"zero":false},"axis":{"title":["Visual analog scale","leg pain (0–10)"],"values":[0,5,10,15],"titlePadding":15,"labelPadding":2}},"text":{"field":"name"}}},
{"data":{"values":[{"cap":"(c)"}]},"mark":{"type":"text","fontSize":13,"baseline":"middle"},
"encoding":{"x":{"datum":"Untrained|After","type":"nominal","scale":{"type":"band","domain":["Untrained|Before","Untrained|After","Trained|Before","Trained|After"],"paddingInner":0,"paddingOuter":0},"axis":{"title":null,"labelExpr":"split(datum.value,'|')[1]","labelAngle":0,"labelPadding":5,"labelOverlap":false}},
"y":{"datum":-7.62,"type":"quantitative","scale":{"domain":[0,15],"nice":false,"zero":false},"axis":{"title":["Visual analog scale","leg pain (0–10)"],"values":[0,5,10,15],"titlePadding":15,"labelPadding":2}},"text":{"field":"cap"}}}
]},
{"width":251,"height":129,"layer":[
{"data":{"name":"pts"},"transform":[{"filter":"datum.p=='d'"}],"mark":{"type":"point","filled":true,"size":50,"stroke":"#000","strokeWidth":1,"opacity":1},
"encoding":{"x":{"field":"c","type":"nominal","scale":{"type":"band","domain":["Untrained|Before","Untrained|After","Trained|Before","Trained|After"],"paddingInner":0,"paddingOuter":0},"axis":{"title":null,"labelExpr":"split(datum.value,'|')[1]","labelAngle":0,"labelPadding":5,"labelOverlap":false}},
"xOffset":{"field":"s","type":"quantitative","scale":{"domain":[-4,4],"range":[3.375,59.375]}},
"y":{"field":"v","type":"quantitative","scale":{"domain":[0,25],"nice":false,"zero":false},"axis":{"title":"Lactate level (mm/dl)","values":[0,5,10,15,20,25],"titlePadding":13,"labelPadding":2}},
"shape":{"field":"c","type":"nominal","scale":{"domain":["Untrained|Before","Untrained|After","Untrained|2 h","Untrained|24 h","Trained|Before","Trained|After","Trained|2 h","Trained|24 h"],"range":["circle","circle","circle","circle","triangle-up","triangle-up","triangle-up","triangle-up"]},"legend":null},
"fill":{"field":"c","type":"nominal","scale":{"domain":["Untrained|Before","Untrained|After","Untrained|2 h","Untrained|24 h","Trained|Before","Trained|After","Trained|2 h","Trained|24 h"],"range":["#000","#fff","#fff","#444","#000","#fff","#fff","#444"]},"legend":null}}},
{"data":{"name":"pts"},"transform":[{"filter":"datum.p=='d'"}],"mark":{"type":"tick","size":42,"thickness":1.3,"color":"#222"},
"encoding":{"x":{"field":"c","type":"nominal","scale":{"type":"band","domain":["Untrained|Before","Untrained|After","Trained|Before","Trained|After"],"paddingInner":0,"paddingOuter":0},"axis":{"title":null,"labelExpr":"split(datum.value,'|')[1]","labelAngle":0,"labelPadding":5,"labelOverlap":false}},
"y":{"aggregate":"mean","field":"v","type":"quantitative","scale":{"domain":[0,25],"nice":false,"zero":false},"axis":{"title":"Lactate level (mm/dl)","values":[0,5,10,15,20,25],"titlePadding":13,"labelPadding":2}}}},
{"data":{"name":"pts"},"transform":[{"filter":"datum.p=='d'"}],"mark":{"type":"errorbar","extent":"stderr","ticks":{"size":16},"thickness":1.2,"color":"#222"},
"encoding":{"x":{"field":"c","type":"nominal","scale":{"type":"band","domain":["Untrained|Before","Untrained|After","Trained|Before","Trained|After"],"paddingInner":0,"paddingOuter":0},"axis":{"title":null,"labelExpr":"split(datum.value,'|')[1]","labelAngle":0,"labelPadding":5,"labelOverlap":false}},
"y":{"field":"v","type":"quantitative","scale":{"domain":[0,25],"nice":false,"zero":false},"axis":{"title":"Lactate level (mm/dl)","values":[0,5,10,15,20,25],"titlePadding":13,"labelPadding":2}}}},
{"data":{"name":"br"},"transform":[{"filter":"datum.p=='d'"}],"mark":{"type":"rule","color":"#333","strokeWidth":1.1,"xOffset":-3,"x2Offset":-3},
"encoding":{"x":{"field":"c","type":"nominal","scale":{"type":"band","domain":["Untrained|Before","Untrained|After","Trained|Before","Trained|After"],"paddingInner":0,"paddingOuter":0},"axis":{"title":null,"labelExpr":"split(datum.value,'|')[1]","labelAngle":0,"labelPadding":5,"labelOverlap":false}},"x2":{"field":"c2"},
"y":{"field":"v","type":"quantitative","scale":{"domain":[0,25],"nice":false,"zero":false},"axis":{"title":"Lactate level (mm/dl)","values":[0,5,10,15,20,25],"titlePadding":13,"labelPadding":2}}}},
{"data":{"name":"br"},"transform":[{"filter":"datum.p=='d'"}],"mark":{"type":"tick","orient":"vertical","size":9,"thickness":1.1,"color":"#333","xOffset":-3},
"encoding":{"x":{"field":"c","type":"nominal","scale":{"type":"band","domain":["Untrained|Before","Untrained|After","Trained|Before","Trained|After"],"paddingInner":0,"paddingOuter":0},"axis":{"title":null,"labelExpr":"split(datum.value,'|')[1]","labelAngle":0,"labelPadding":5,"labelOverlap":false}},
"y":{"field":"v","type":"quantitative","scale":{"domain":[0,25],"nice":false,"zero":false},"axis":{"title":"Lactate level (mm/dl)","values":[0,5,10,15,20,25],"titlePadding":13,"labelPadding":2}}}},
{"data":{"name":"br"},"transform":[{"filter":"datum.p=='d'"}],"mark":{"type":"tick","orient":"vertical","size":9,"thickness":1.1,"color":"#333","xOffset":-3},
"encoding":{"x":{"field":"c2","type":"nominal","scale":{"type":"band","domain":["Untrained|Before","Untrained|After","Trained|Before","Trained|After"],"paddingInner":0,"paddingOuter":0},"axis":{"title":null,"labelExpr":"split(datum.value,'|')[1]","labelAngle":0,"labelPadding":5,"labelOverlap":false}},
"y":{"field":"v","type":"quantitative","scale":{"domain":[0,25],"nice":false,"zero":false},"axis":{"title":"Lactate level (mm/dl)","values":[0,5,10,15,20,25],"titlePadding":13,"labelPadding":2}}}},
{"data":{"name":"pl"},"transform":[{"filter":"datum.p=='d'"}],"mark":{"type":"text","fontSize":12,"baseline":"middle","align":"left","dx":-26,"fontStyle":"italic"},
"encoding":{"x":{"field":"c","type":"nominal","bandPosition":0.95,"scale":{"type":"band","domain":["Untrained|Before","Untrained|After","Trained|Before","Trained|After"],"paddingInner":0,"paddingOuter":0},"axis":{"title":null,"labelExpr":"split(datum.value,'|')[1]","labelAngle":0,"labelPadding":5,"labelOverlap":false}},
"y":{"field":"v","type":"quantitative","scale":{"domain":[0,25],"nice":false,"zero":false},"axis":{"title":"Lactate level (mm/dl)","values":[0,5,10,15,20,25],"titlePadding":13,"labelPadding":2}},"text":{"value":"p"}}},
{"data":{"name":"pl"},"transform":[{"filter":"datum.p=='d'"}],"mark":{"type":"text","fontSize":12,"baseline":"middle","align":"left","dx":-17},
"encoding":{"x":{"field":"c","type":"nominal","bandPosition":0.95,"scale":{"type":"band","domain":["Untrained|Before","Untrained|After","Trained|Before","Trained|After"],"paddingInner":0,"paddingOuter":0},"axis":{"title":null,"labelExpr":"split(datum.value,'|')[1]","labelAngle":0,"labelPadding":5,"labelOverlap":false}},
"y":{"field":"v","type":"quantitative","scale":{"domain":[0,25],"nice":false,"zero":false},"axis":{"title":"Lactate level (mm/dl)","values":[0,5,10,15,20,25],"titlePadding":13,"labelPadding":2}},"text":{"field":"label"}}},
{"data":{"name":"grp"},"transform":[{"filter":"datum.p=='d'"}],"mark":{"type":"rule","color":"#333","strokeWidth":1,"xOffset":-18,"x2Offset":14},
"encoding":{"x":{"field":"c","type":"nominal","scale":{"type":"band","domain":["Untrained|Before","Untrained|After","Trained|Before","Trained|After"],"paddingInner":0,"paddingOuter":0},"axis":{"title":null,"labelExpr":"split(datum.value,'|')[1]","labelAngle":0,"labelPadding":5,"labelOverlap":false}},"x2":{"field":"c2"},
"y":{"datum":-4.85,"type":"quantitative","scale":{"domain":[0,25],"nice":false,"zero":false},"axis":{"title":"Lactate level (mm/dl)","values":[0,5,10,15,20,25],"titlePadding":13,"labelPadding":2}}}},
{"data":{"name":"grp"},"transform":[{"filter":"datum.p=='d'"}],"mark":{"type":"text","fontSize":13,"baseline":"middle"},
"encoding":{"x":{"field":"c","type":"nominal","bandPosition":1,"scale":{"type":"band","domain":["Untrained|Before","Untrained|After","Trained|Before","Trained|After"],"paddingInner":0,"paddingOuter":0},"axis":{"title":null,"labelExpr":"split(datum.value,'|')[1]","labelAngle":0,"labelPadding":5,"labelOverlap":false}},
"y":{"datum":-7.36,"type":"quantitative","scale":{"domain":[0,25],"nice":false,"zero":false},"axis":{"title":"Lactate level (mm/dl)","values":[0,5,10,15,20,25],"titlePadding":13,"labelPadding":2}},"text":{"field":"name"}}},
{"data":{"values":[{"cap":"(d)"}]},"mark":{"type":"text","fontSize":13,"baseline":"middle"},
"encoding":{"x":{"datum":"Untrained|After","type":"nominal","bandPosition":0.68,"scale":{"type":"band","domain":["Untrained|Before","Untrained|After","Trained|Before","Trained|After"],"paddingInner":0,"paddingOuter":0},"axis":{"title":null,"labelExpr":"split(datum.value,'|')[1]","labelAngle":0,"labelPadding":5,"labelOverlap":false}},
"y":{"datum":-12.2,"type":"quantitative","scale":{"domain":[0,25],"nice":false,"zero":false},"axis":{"title":"Lactate level (mm/dl)","values":[0,5,10,15,20,25],"titlePadding":13,"labelPadding":2}},"text":{"field":"cap"}}}
]}
],"spacing":63,"bounds":"flush"},
{"width":370,"height":140,"layer":[
{"data":{"name":"pts"},"transform":[{"filter":"datum.p=='e'"}],"mark":{"type":"point","filled":true,"size":50,"stroke":"#000","strokeWidth":1,"opacity":1},
"encoding":{"x":{"field":"c","type":"nominal","scale":{"type":"band","domain":["Untrained|Before","Untrained|2 h","Untrained|24 h","Trained|Before","Trained|2 h","Trained|24 h"],"paddingInner":0,"paddingOuter":0},"axis":{"title":null,"labelExpr":"split(datum.value,'|')[1]","labelAngle":0,"labelPadding":5,"labelOverlap":false}},
"xOffset":{"field":"s","type":"quantitative","scale":{"domain":[-4,4],"range":[2.833,58.833]}},
"y":{"field":"v","type":"quantitative","scale":{"domain":[0,1000],"nice":false,"zero":false},"axis":{"title":"Creatine kinase (U/l)","values":[0,200,400,600,800,1000],"format":"d","titlePadding":14,"labelPadding":2}},
"shape":{"field":"c","type":"nominal","scale":{"domain":["Untrained|Before","Untrained|After","Untrained|2 h","Untrained|24 h","Trained|Before","Trained|After","Trained|2 h","Trained|24 h"],"range":["circle","circle","circle","circle","triangle-up","triangle-up","triangle-up","triangle-up"]},"legend":null},
"fill":{"field":"c","type":"nominal","scale":{"domain":["Untrained|Before","Untrained|After","Untrained|2 h","Untrained|24 h","Trained|Before","Trained|After","Trained|2 h","Trained|24 h"],"range":["#000","#fff","#fff","#444","#000","#fff","#fff","#444"]},"legend":null}}},
{"data":{"name":"pts"},"transform":[{"filter":"datum.p=='e'"}],"mark":{"type":"tick","size":42,"thickness":1.3,"color":"#222"},
"encoding":{"x":{"field":"c","type":"nominal","scale":{"type":"band","domain":["Untrained|Before","Untrained|2 h","Untrained|24 h","Trained|Before","Trained|2 h","Trained|24 h"],"paddingInner":0,"paddingOuter":0},"axis":{"title":null,"labelExpr":"split(datum.value,'|')[1]","labelAngle":0,"labelPadding":5,"labelOverlap":false}},
"y":{"aggregate":"mean","field":"v","type":"quantitative","scale":{"domain":[0,1000],"nice":false,"zero":false},"axis":{"title":"Creatine kinase (U/l)","values":[0,200,400,600,800,1000],"format":"d","titlePadding":14,"labelPadding":2}}}},
{"data":{"name":"pts"},"transform":[{"filter":"datum.p=='e'"}],"mark":{"type":"errorbar","extent":"stderr","ticks":{"size":18},"thickness":1.2,"color":"#222"},
"encoding":{"x":{"field":"c","type":"nominal","scale":{"type":"band","domain":["Untrained|Before","Untrained|2 h","Untrained|24 h","Trained|Before","Trained|2 h","Trained|24 h"],"paddingInner":0,"paddingOuter":0},"axis":{"title":null,"labelExpr":"split(datum.value,'|')[1]","labelAngle":0,"labelPadding":5,"labelOverlap":false}},
"y":{"field":"v","type":"quantitative","scale":{"domain":[0,1000],"nice":false,"zero":false},"axis":{"title":"Creatine kinase (U/l)","values":[0,200,400,600,800,1000],"format":"d","titlePadding":14,"labelPadding":2}}}},
{"data":{"name":"br"},"transform":[{"filter":"datum.p=='e'"}],"mark":{"type":"rule","color":"#333","strokeWidth":1.1,"xOffset":-3,"x2Offset":-1},
"encoding":{"x":{"field":"c","type":"nominal","scale":{"type":"band","domain":["Untrained|Before","Untrained|2 h","Untrained|24 h","Trained|Before","Trained|2 h","Trained|24 h"],"paddingInner":0,"paddingOuter":0},"axis":{"title":null,"labelExpr":"split(datum.value,'|')[1]","labelAngle":0,"labelPadding":5,"labelOverlap":false}},"x2":{"field":"c2"},
"y":{"field":"v","type":"quantitative","scale":{"domain":[0,1000],"nice":false,"zero":false},"axis":{"title":"Creatine kinase (U/l)","values":[0,200,400,600,800,1000],"format":"d","titlePadding":14,"labelPadding":2}}}},
{"data":{"name":"br"},"transform":[{"filter":"datum.p=='e'"}],"mark":{"type":"tick","orient":"vertical","size":9,"thickness":1.1,"color":"#333","xOffset":-3},
"encoding":{"x":{"field":"c","type":"nominal","scale":{"type":"band","domain":["Untrained|Before","Untrained|2 h","Untrained|24 h","Trained|Before","Trained|2 h","Trained|24 h"],"paddingInner":0,"paddingOuter":0},"axis":{"title":null,"labelExpr":"split(datum.value,'|')[1]","labelAngle":0,"labelPadding":5,"labelOverlap":false}},
"y":{"field":"v","type":"quantitative","scale":{"domain":[0,1000],"nice":false,"zero":false},"axis":{"title":"Creatine kinase (U/l)","values":[0,200,400,600,800,1000],"format":"d","titlePadding":14,"labelPadding":2}}}},
{"data":{"name":"br"},"transform":[{"filter":"datum.p=='e'"}],"mark":{"type":"tick","orient":"vertical","size":9,"thickness":1.1,"color":"#333","xOffset":-1},
"encoding":{"x":{"field":"c2","type":"nominal","scale":{"type":"band","domain":["Untrained|Before","Untrained|2 h","Untrained|24 h","Trained|Before","Trained|2 h","Trained|24 h"],"paddingInner":0,"paddingOuter":0},"axis":{"title":null,"labelExpr":"split(datum.value,'|')[1]","labelAngle":0,"labelPadding":5,"labelOverlap":false}},
"y":{"field":"v","type":"quantitative","scale":{"domain":[0,1000],"nice":false,"zero":false},"axis":{"title":"Creatine kinase (U/l)","values":[0,200,400,600,800,1000],"format":"d","titlePadding":14,"labelPadding":2}}}},
{"data":{"name":"pl"},"transform":[{"filter":"datum.p=='e' && datum.k=='adj'"}],"mark":{"type":"text","fontSize":12,"baseline":"middle","align":"left","dx":-26,"fontStyle":"italic"},
"encoding":{"x":{"field":"c","type":"nominal","bandPosition":0.95,"scale":{"type":"band","domain":["Untrained|Before","Untrained|2 h","Untrained|24 h","Trained|Before","Trained|2 h","Trained|24 h"],"paddingInner":0,"paddingOuter":0},"axis":{"title":null,"labelExpr":"split(datum.value,'|')[1]","labelAngle":0,"labelPadding":5,"labelOverlap":false}},
"y":{"field":"v","type":"quantitative","scale":{"domain":[0,1000],"nice":false,"zero":false},"axis":{"title":"Creatine kinase (U/l)","values":[0,200,400,600,800,1000],"format":"d","titlePadding":14,"labelPadding":2}},"text":{"value":"p"}}},
{"data":{"name":"pl"},"transform":[{"filter":"datum.p=='e' && datum.k=='adj'"}],"mark":{"type":"text","fontSize":12,"baseline":"middle","align":"left","dx":-17},
"encoding":{"x":{"field":"c","type":"nominal","bandPosition":0.95,"scale":{"type":"band","domain":["Untrained|Before","Untrained|2 h","Untrained|24 h","Trained|Before","Trained|2 h","Trained|24 h"],"paddingInner":0,"paddingOuter":0},"axis":{"title":null,"labelExpr":"split(datum.value,'|')[1]","labelAngle":0,"labelPadding":5,"labelOverlap":false}},
"y":{"field":"v","type":"quantitative","scale":{"domain":[0,1000],"nice":false,"zero":false},"axis":{"title":"Creatine kinase (U/l)","values":[0,200,400,600,800,1000],"format":"d","titlePadding":14,"labelPadding":2}},"text":{"field":"label"}}},
{"data":{"name":"pl"},"transform":[{"filter":"datum.p=='e' && datum.k=='mid'"}],"mark":{"type":"text","fontSize":12,"baseline":"middle","align":"left","dx":-26,"fontStyle":"italic"},
"encoding":{"x":{"field":"c","type":"nominal","bandPosition":0.45,"scale":{"type":"band","domain":["Untrained|Before","Untrained|2 h","Untrained|24 h","Trained|Before","Trained|2 h","Trained|24 h"],"paddingInner":0,"paddingOuter":0},"axis":{"title":null,"labelExpr":"split(datum.value,'|')[1]","labelAngle":0,"labelPadding":5,"labelOverlap":false}},
"y":{"field":"v","type":"quantitative","scale":{"domain":[0,1000],"nice":false,"zero":false},"axis":{"title":"Creatine kinase (U/l)","values":[0,200,400,600,800,1000],"format":"d","titlePadding":14,"labelPadding":2}},"text":{"value":"p"}}},
{"data":{"name":"pl"},"transform":[{"filter":"datum.p=='e' && datum.k=='mid'"}],"mark":{"type":"text","fontSize":12,"baseline":"middle","align":"left","dx":-17},
"encoding":{"x":{"field":"c","type":"nominal","bandPosition":0.45,"scale":{"type":"band","domain":["Untrained|Before","Untrained|2 h","Untrained|24 h","Trained|Before","Trained|2 h","Trained|24 h"],"paddingInner":0,"paddingOuter":0},"axis":{"title":null,"labelExpr":"split(datum.value,'|')[1]","labelAngle":0,"labelPadding":5,"labelOverlap":false}},
"y":{"field":"v","type":"quantitative","scale":{"domain":[0,1000],"nice":false,"zero":false},"axis":{"title":"Creatine kinase (U/l)","values":[0,200,400,600,800,1000],"format":"d","titlePadding":14,"labelPadding":2}},"text":{"field":"label"}}},
{"data":{"name":"grp"},"transform":[{"filter":"datum.p=='e'"}],"mark":{"type":"rule","color":"#333","strokeWidth":1,"xOffset":-18,"x2Offset":15},
"encoding":{"x":{"field":"c","type":"nominal","scale":{"type":"band","domain":["Untrained|Before","Untrained|2 h","Untrained|24 h","Trained|Before","Trained|2 h","Trained|24 h"],"paddingInner":0,"paddingOuter":0},"axis":{"title":null,"labelExpr":"split(datum.value,'|')[1]","labelAngle":0,"labelPadding":5,"labelOverlap":false}},"x2":{"field":"c2"},
"y":{"datum":-207,"type":"quantitative","scale":{"domain":[0,1000],"nice":false,"zero":false},"axis":{"title":"Creatine kinase (U/l)","values":[0,200,400,600,800,1000],"format":"d","titlePadding":14,"labelPadding":2}}}},
{"data":{"name":"grp"},"transform":[{"filter":"datum.p=='e'"}],"mark":{"type":"text","fontSize":13,"baseline":"middle"},
"encoding":{"x":{"field":"m","type":"nominal","scale":{"type":"band","domain":["Untrained|Before","Untrained|2 h","Untrained|24 h","Trained|Before","Trained|2 h","Trained|24 h"],"paddingInner":0,"paddingOuter":0},"axis":{"title":null,"labelExpr":"split(datum.value,'|')[1]","labelAngle":0,"labelPadding":5,"labelOverlap":false}},
"y":{"datum":-286,"type":"quantitative","scale":{"domain":[0,1000],"nice":false,"zero":false},"axis":{"title":"Creatine kinase (U/l)","values":[0,200,400,600,800,1000],"format":"d","titlePadding":14,"labelPadding":2}},"text":{"field":"name"}}},
{"data":{"values":[{"cap":"(e)"}]},"mark":{"type":"text","fontSize":13,"baseline":"middle"},
"encoding":{"x":{"datum":"Untrained|24 h","type":"nominal","scale":{"type":"band","domain":["Untrained|Before","Untrained|2 h","Untrained|24 h","Trained|Before","Trained|2 h","Trained|24 h"],"paddingInner":0,"paddingOuter":0},"axis":{"title":null,"labelExpr":"split(datum.value,'|')[1]","labelAngle":0,"labelPadding":5,"labelOverlap":false}},
"y":{"datum":-536,"type":"quantitative","scale":{"domain":[0,1000],"nice":false,"zero":false},"axis":{"title":"Creatine kinase (U/l)","values":[0,200,400,600,800,1000],"format":"d","titlePadding":14,"labelPadding":2}},"text":{"field":"cap"}}}
]}
]
}
